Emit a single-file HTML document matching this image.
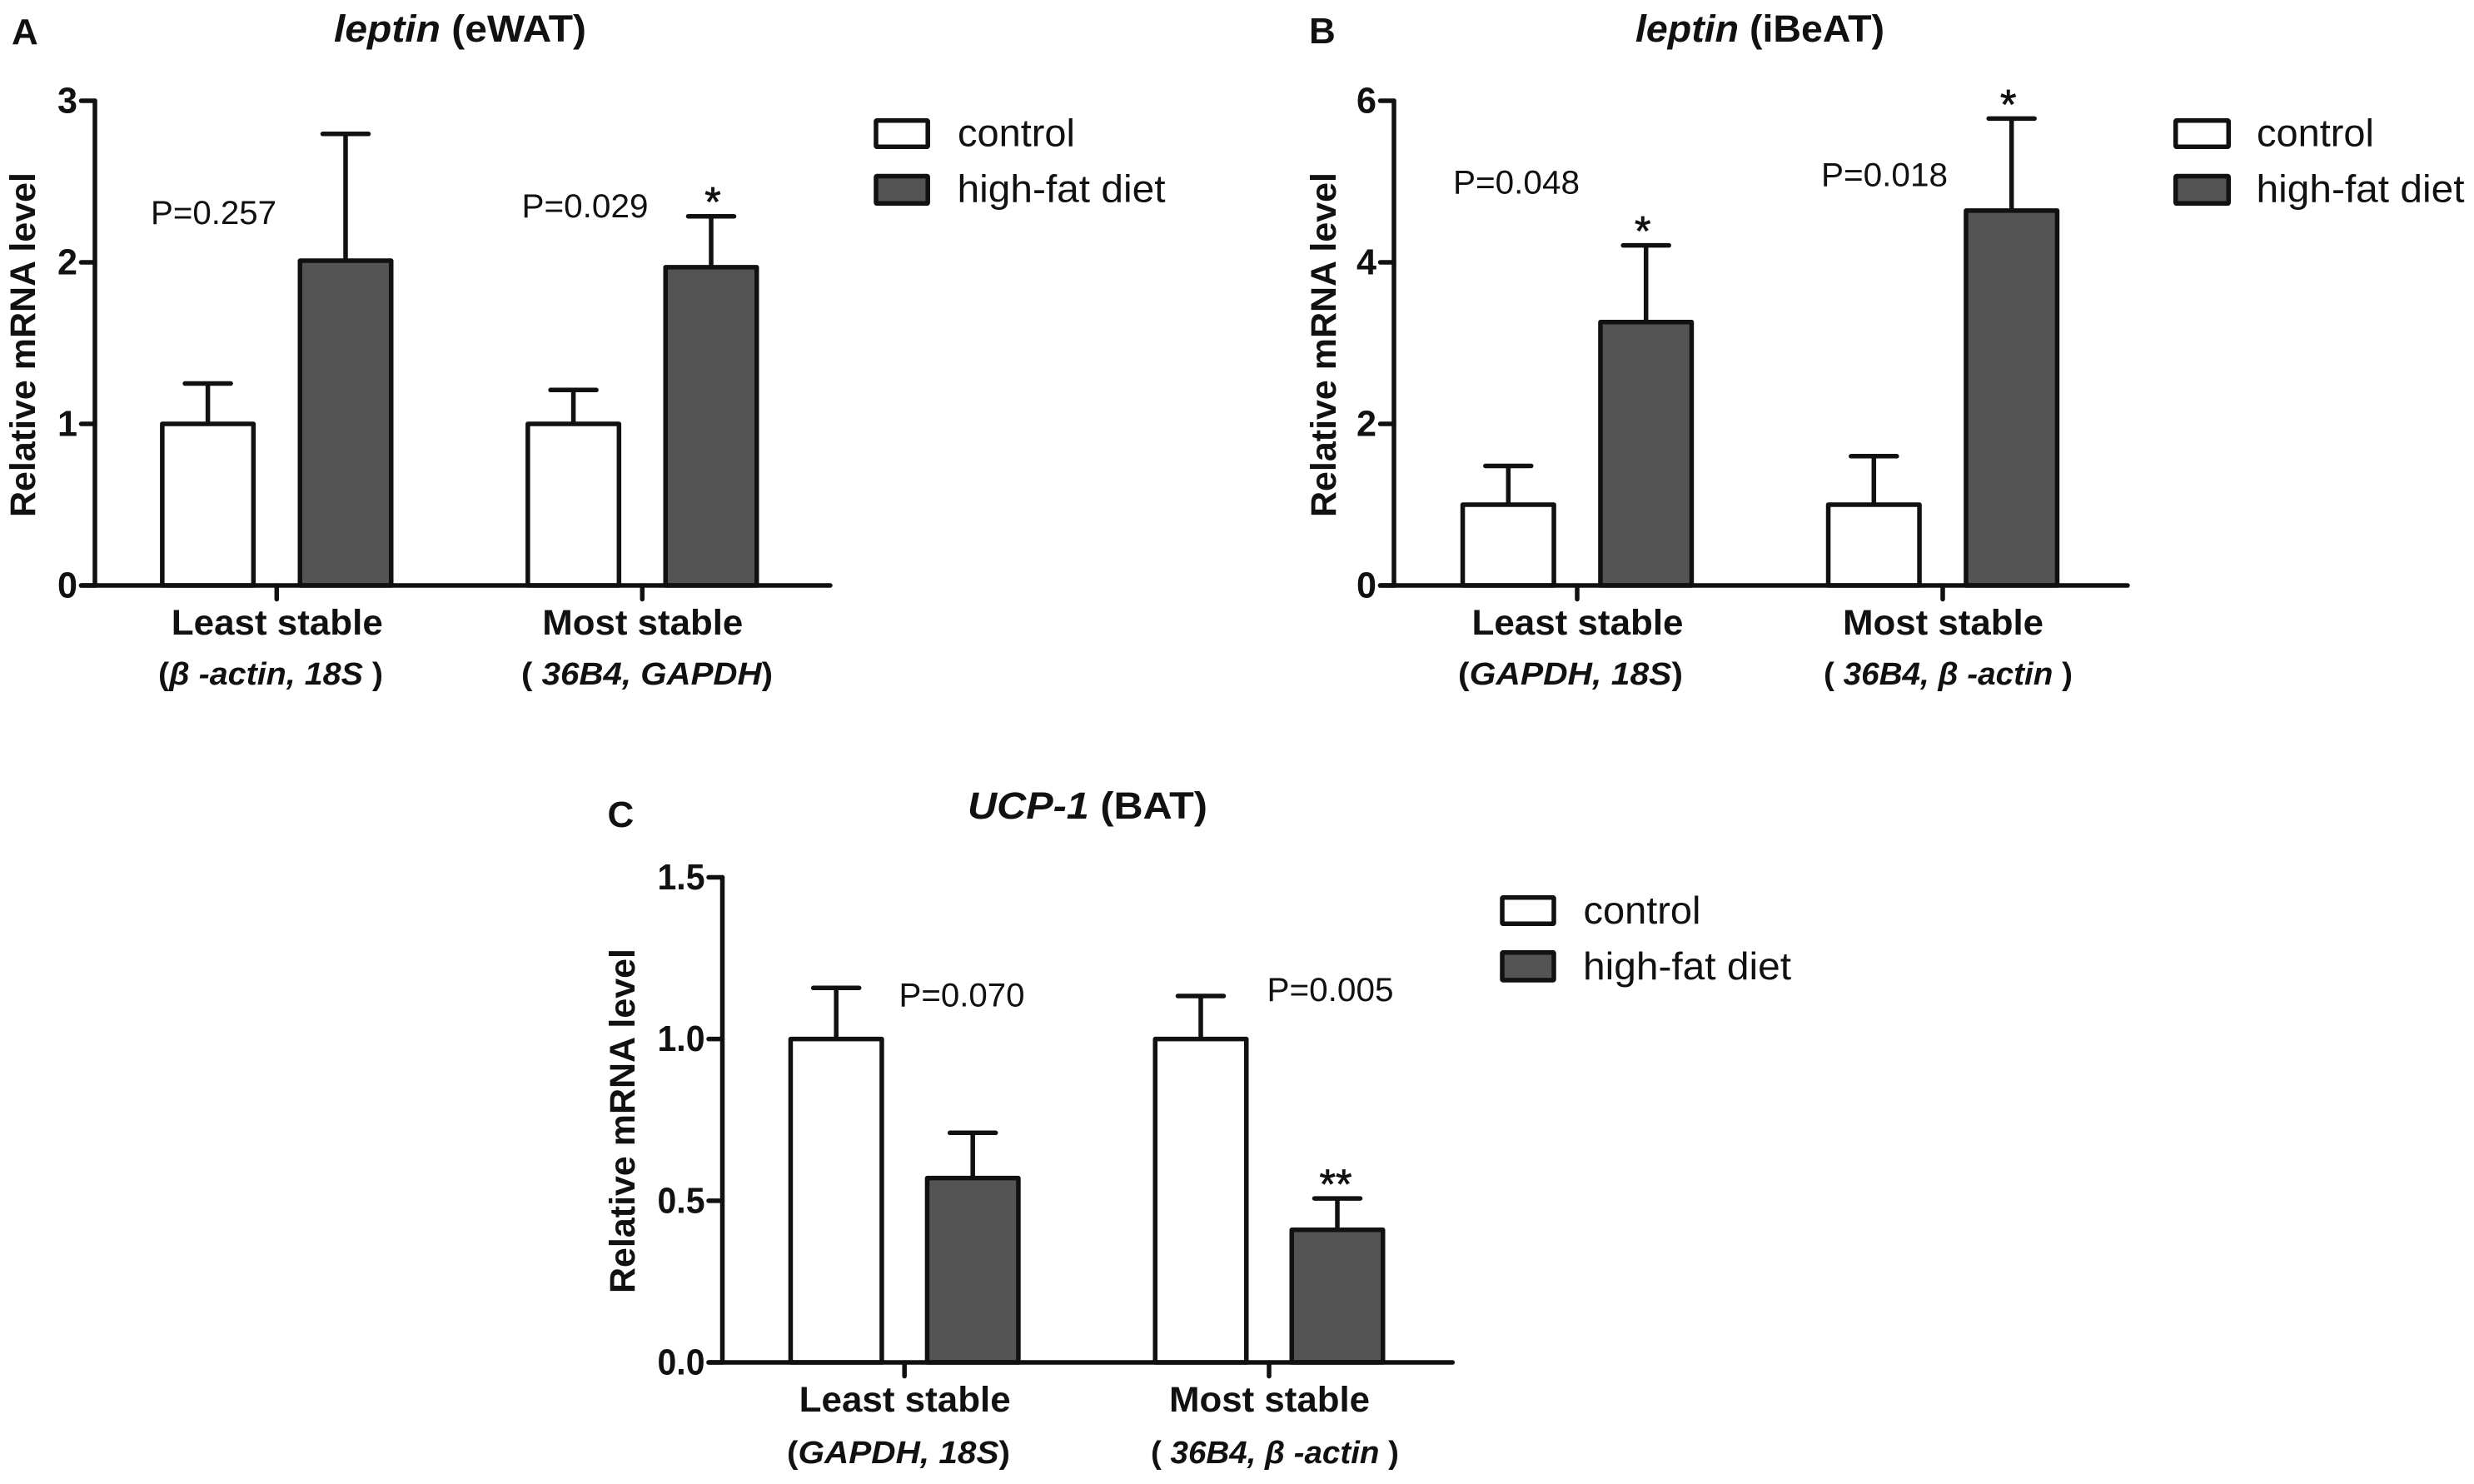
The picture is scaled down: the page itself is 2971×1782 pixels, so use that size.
<!DOCTYPE html>
<html lang="en">
<head>
<meta charset="utf-8">
<title>Relative mRNA levels by reference gene stability</title>
<style>
html,body{margin:0;padding:0;background:#fff;width:2971px;height:1782px;overflow:hidden}
svg{display:block}
text{font-family:"Liberation Sans",sans-serif;fill:#111}
.i{font-style:italic}
.ttl{font-size:45px;font-weight:bold}
.plab{font-size:44px;font-weight:bold}
.ytitle{font-size:43px;font-weight:bold}
.sub{font-size:38px;font-weight:bold}
.pv{font-size:40px}
.leg{font-size:46px}
</style>
</head>
<body>
<svg id="chart" xmlns="http://www.w3.org/2000/svg" width="2971" height="1782" viewBox="0 0 2971 1782">
  <rect x="0" y="0" width="2971" height="1782" fill="#fff"/>

  <!-- Panel A -->
  <g id="panel-a">
    <text class="plab" x="14" y="53">A</text>
    <text class="ttl" x="401" y="50" textLength="303" lengthAdjust="spacingAndGlyphs"><tspan class="i">leptin</tspan> (eWAT)</text>
    <text class="ytitle" transform="translate(42 621) rotate(-90)" x="0" y="0" textLength="414" lengthAdjust="spacingAndGlyphs">Relative mRNA level</text>
    <text class="sub" x="190" y="822" textLength="270" lengthAdjust="spacingAndGlyphs">(<tspan class="i">β -actin, 18S </tspan>)</text>
    <text class="sub" x="626" y="822" textLength="302" lengthAdjust="spacingAndGlyphs">( <tspan class="i">36B4, GAPDH</tspan>)</text>
    <text class="pv" x="181" y="269" textLength="151" lengthAdjust="spacingAndGlyphs">P=0.257</text>
    <text class="pv" x="626.5" y="261" textLength="152" lengthAdjust="spacingAndGlyphs">P=0.029</text>
    <g>
      <rect x="1052" y="144.75" width="62.2" height="31.5" rx="1" fill="#fff" stroke="#111" stroke-width="5.5"/>
      <text class="leg" x="1150" y="175.7" textLength="141" lengthAdjust="spacingAndGlyphs">control</text>
      <rect x="1052" y="211.5" width="62.2" height="32.8" rx="1" fill="#545454" stroke="#111" stroke-width="5.5"/>
      <text class="leg" x="1149.5" y="242.3" textLength="250" lengthAdjust="spacingAndGlyphs">high-fat diet</text>
    </g>
  </g>

  <!-- Panel B -->
  <g id="panel-b">
    <text class="plab" x="1572" y="52">B</text>
    <text class="ttl" x="1964" y="50" textLength="299" lengthAdjust="spacingAndGlyphs"><tspan class="i">leptin</tspan> (iBeAT)</text>
    <text class="ytitle" transform="translate(1604 621) rotate(-90)" x="0" y="0" textLength="414" lengthAdjust="spacingAndGlyphs">Relative mRNA level</text>
    <text class="sub" x="1751" y="822" textLength="270" lengthAdjust="spacingAndGlyphs">(<tspan class="i">GAPDH, 18S</tspan>)</text>
    <text class="sub" x="2190" y="822" textLength="299" lengthAdjust="spacingAndGlyphs">( <tspan class="i">36B4, β -actin </tspan>)</text>
    <text class="pv" x="1745" y="232.6" textLength="152" lengthAdjust="spacingAndGlyphs">P=0.048</text>
    <text class="pv" x="2187" y="223.3" textLength="152" lengthAdjust="spacingAndGlyphs">P=0.018</text>
    <g>
      <rect x="2612.75" y="144.75" width="63.5" height="31.5" rx="1" fill="#fff" stroke="#111" stroke-width="5.5"/>
      <text class="leg" x="2710" y="175.7" textLength="141" lengthAdjust="spacingAndGlyphs">control</text>
      <rect x="2612.75" y="211.5" width="63.5" height="32.8" rx="1" fill="#545454" stroke="#111" stroke-width="5.5"/>
      <text class="leg" x="2709.5" y="242.3" textLength="250" lengthAdjust="spacingAndGlyphs">high-fat diet</text>
    </g>
  </g>

  <!-- Panel C -->
  <g id="panel-c">
    <text class="plab" x="729.5" y="993">C</text>
    <text class="ttl" x="1162" y="983" textLength="288" lengthAdjust="spacingAndGlyphs"><tspan class="i">UCP-1</tspan> (BAT)</text>
    <text class="ytitle" transform="translate(762 1553) rotate(-90)" x="0" y="0" textLength="414" lengthAdjust="spacingAndGlyphs">Relative mRNA level</text>
    <text class="sub" x="945" y="1757" textLength="268" lengthAdjust="spacingAndGlyphs">(<tspan class="i">GAPDH, 18S</tspan>)</text>
    <text class="sub" x="1382" y="1757" textLength="298" lengthAdjust="spacingAndGlyphs">( <tspan class="i">36B4, β -actin </tspan>)</text>
    <text class="pv" x="1079.5" y="1208.6" textLength="151" lengthAdjust="spacingAndGlyphs">P=0.070</text>
    <text class="pv" x="1521.5" y="1202" textLength="152" lengthAdjust="spacingAndGlyphs">P=0.005</text>
    <g>
      <rect x="1804" y="1077.75" width="62" height="31.5" rx="1" fill="#fff" stroke="#111" stroke-width="5.5"/>
      <text class="leg" x="1901.5" y="1109" textLength="141" lengthAdjust="spacingAndGlyphs">control</text>
      <rect x="1804" y="1143.75" width="62" height="33.2" rx="1" fill="#545454" stroke="#111" stroke-width="5.5"/>
      <text class="leg" x="1901" y="1176" textLength="250" lengthAdjust="spacingAndGlyphs">high-fat diet</text>
    </g>
  </g>
</svg>
<script>
const categories = ['Least stable', 'Most stable'];

const panelATicks = [0, 1, 2, 3];
const panelATickLabels = ['0', '1', '2', '3'];
const panelAControl = [1.0, 1.0];
const panelAControlErr = [0.25, 0.21];
const panelAHighFat = [2.01, 1.97];
const panelAHighFatErr = [0.785, 0.315];
const panelAStars = ['', '*'];

const panelBTicks = [0, 2, 4, 6];
const panelBTickLabels = ['0', '2', '4', '6'];
const panelBControl = [1.0, 1.0];
const panelBControlErr = [0.48, 0.60];
const panelBHighFat = [3.26, 4.64];
const panelBHighFatErr = [0.95, 1.14];
const panelBStars = ['*', '*'];

const panelCTicks = [0, 0.5, 1.0, 1.5];
const panelCTickLabels = ['0.0', '0.5', '1.0', '1.5'];
const panelCControl = [1.0, 1.0];
const panelCControlErr = [0.158, 0.133];
const panelCHighFat = [0.57, 0.41];
const panelCHighFatErr = [0.14, 0.097];
const panelCStars = ['', '**'];

const SVG_NS = 'http://www.w3.org/2000/svg';
const INK = '#111';
const DARK_FILL = '#545454';
const LINE_W = 5.5;

function make(tag, parent, name, props) {
  const el = document.createElementNS(SVG_NS, tag);
  
  
  Object.keys(props).forEach(function (k) { el.setAttribute(k, props[k]); });
  parent.appendChild(el);
  return el;
}

function drawPanel(cfg) {
  const root = document.getElementById(cfg.id);
  const maxV = cfg.ticks[cfg.ticks.length - 1];
  const y = function (v) { return cfg.y0 - (v / maxV) * (cfg.y0 - cfg.yTop); };
  const groupX = function (i) { return cfg.tick0 + i * cfg.tickStep; };

  cfg.control.forEach(function (v, i) {
    drawBar(root, 'control-' + i, groupX(i) - cfg.off, v, cfg.controlErr[i], '#fff', y, cfg);
  });
  cfg.highFat.forEach(function (v, i) {
    const cx = groupX(i) + cfg.off;
    drawBar(root, 'high-fat-' + i, cx, v, cfg.highFatErr[i], DARK_FILL, y, cfg);
    if (cfg.stars[i]) {
      const star = make('text', root, 'significance-marker-' + i, {
        x: cx + cfg.starDx,
        y: y(v + cfg.highFatErr[i]) + 0,
        'text-anchor': 'middle',
        'font-size': 50,
        stroke: INK,
        'stroke-width': 0.8
      });
      star.textContent = cfg.stars[i];
    }
  });

  make('line', root, 'y-axis-line', { x1: cfg.xAxis, x2: cfg.xAxis, y1: y(maxV), y2: cfg.y0, stroke: INK, 'stroke-width': LINE_W, 'stroke-linecap': 'round' });
  make('line', root, 'x-axis-line', { x1: cfg.xAxis - 16.5, x2: cfg.xEnd, y1: cfg.y0, y2: cfg.y0, stroke: INK, 'stroke-width': LINE_W, 'stroke-linecap': 'round' });

  cfg.ticks.forEach(function (t, i) {
    make('line', root, 'y-tick', { x1: cfg.xAxis - 16.5, x2: cfg.xAxis, y1: y(t), y2: y(t), stroke: INK, 'stroke-width': LINE_W, 'stroke-linecap': 'round' });
    const lbl = make('text', root, 'y-tick-label', {
      x: cfg.xAxis - 21,
      y: y(t) + 14.5,
      'text-anchor': 'end',
      'font-size': 44,
      'font-weight': 'bold',
      textLength: cfg.tickLabels[i].length === 1 ? 24 : 57,
      lengthAdjust: 'spacingAndGlyphs'
    });
    lbl.textContent = cfg.tickLabels[i];
  });

  categories.forEach(function (c, i) {
    const gx = groupX(i);
    make('line', root, 'x-tick', { x1: gx, x2: gx, y1: cfg.y0, y2: cfg.y0 + 16.5, stroke: INK, 'stroke-width': LINE_W, 'stroke-linecap': 'round' });
    const lbl = make('text', root, 'x-category-label', {
      x: gx + 0.5,
      y: cfg.y0 + 59,
      'text-anchor': 'middle',
      'font-size': 43,
      'font-weight': 'bold',
      textLength: i === 0 ? 254 : 241,
      lengthAdjust: 'spacingAndGlyphs'
    });
    lbl.textContent = c;
  });
}

function drawBar(root, name, cx, v, err, fill, y, cfg) {
  const w = 109.5;
  const topErr = y(v + err);
  make('line', root, 'error-stem-' + name, { x1: cx, x2: cx, y1: y(v), y2: topErr, stroke: INK, 'stroke-width': LINE_W });
  make('line', root, 'error-cap-' + name, { x1: cx - 27.5, x2: cx + 27.5, y1: topErr, y2: topErr, stroke: INK, 'stroke-width': LINE_W, 'stroke-linecap': 'round' });
  make('rect', root, 'bar-' + name, { x: cx - w / 2, y: y(v), width: w, height: cfg.y0 - y(v), fill: fill, stroke: INK, 'stroke-width': LINE_W, 'stroke-linejoin': 'round' });
}

drawPanel({
  id: 'panel-a', y0: 703, yTop: 121, xAxis: 114, xEnd: 997, tick0: 332.3, tickStep: 439, off: 82.7, starDx: 2,
  ticks: panelATicks, tickLabels: panelATickLabels,
  control: panelAControl, controlErr: panelAControlErr,
  highFat: panelAHighFat, highFatErr: panelAHighFatErr, stars: panelAStars
});
drawPanel({
  id: 'panel-b', y0: 703, yTop: 121, xAxis: 1674, xEnd: 2555, tick0: 1894, tickStep: 439, off: 82.7, starDx: -4,
  ticks: panelBTicks, tickLabels: panelBTickLabels,
  control: panelBControl, controlErr: panelBControlErr,
  highFat: panelBHighFat, highFatErr: panelBHighFatErr, stars: panelBStars
});
drawPanel({
  id: 'panel-c', y0: 1636, yTop: 1053.5, xAxis: 867.5, xEnd: 1744.3, tick0: 1086.2, tickStep: 437.8, off: 82, starDx: -2,
  ticks: panelCTicks, tickLabels: panelCTickLabels,
  control: panelCControl, controlErr: panelCControlErr,
  highFat: panelCHighFat, highFatErr: panelCHighFatErr, stars: panelCStars
});
</script>
</body>
</html>
